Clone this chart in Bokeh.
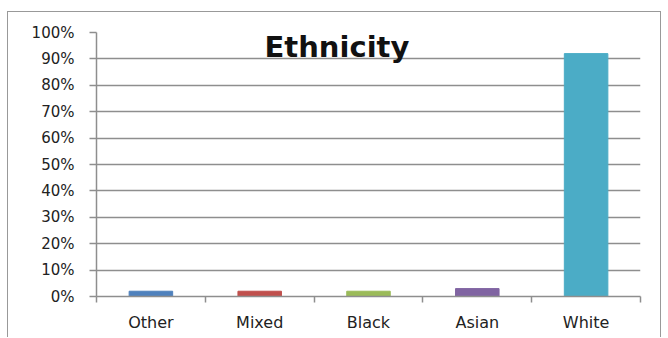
from bokeh.plotting import figure
from bokeh.models import ColumnDataSource, FixedTicker, NumeralTickFormatter, Range1d, Label
from bokeh.embed import file_html
from bokeh.resources import INLINE

categories = ["Other", "Mixed", "Black", "Asian", "White"]
values = [0.02, 0.02, 0.02, 0.03, 0.92]
colors = ["#4F81BD", "#C0504D", "#9BBB59", "#8064A2", "#4BACC6"]
y_ticks = [0, 0.1, 0.2, 0.3, 0.4, 0.5, 0.6, 0.7, 0.8, 0.9, 1.0]
title_text = "Ethnicity"

xs = [i + 0.5 for i in range(len(categories))]
src = ColumnDataSource(dict(x=xs, top=values, color=colors, cat=categories))

p = figure(width=654, height=326, output_backend="svg", toolbar_location=None,
           x_range=Range1d(0, len(categories)), y_range=Range1d(0, 1),
           min_border_left=88, min_border_right=22, min_border_top=20, min_border_bottom=42)
p.styles = {"border-left": "1.5px solid #999999", "border-top": "1.5px solid #999999",
            "border-right": "1.5px solid #999999", "margin-left": "7px", "margin-top": "11px"}
p.outline_line_color = None
p.background_fill_color = "white"
p.border_fill_color = "white"

p.vbar(x="x", top="top", width=0.4, color="color", source=src)

grid_col = "#8e8e8e"
# x axis
p.xaxis.ticker = FixedTicker(ticks=xs, minor_ticks=list(range(len(categories) + 1)))
p.xaxis.major_label_overrides = {x: c for x, c in zip(xs, categories)}
p.xaxis.major_tick_out = 0
p.xaxis.major_tick_in = 0
p.xaxis.minor_tick_out = 6
p.xaxis.minor_tick_in = 0
p.xaxis.minor_tick_line_color = grid_col
p.xaxis.minor_tick_line_width = 1.5
p.xaxis.axis_line_color = grid_col
p.xaxis.axis_line_width = 1.5
p.xaxis.major_label_standoff = 10
p.xaxis.major_label_text_font = "DejaVu Sans"
p.xaxis.major_label_text_font_size = "16px"
p.xaxis.major_label_text_color = "#222222"
p.xgrid.visible = False

# y axis
p.yaxis.ticker = FixedTicker(ticks=y_ticks, minor_ticks=[])
p.yaxis.formatter = NumeralTickFormatter(format="0%")
p.yaxis.major_tick_out = 7
p.yaxis.major_tick_in = 0
p.yaxis.major_tick_line_color = grid_col
p.yaxis.major_tick_line_width = 1.5
p.yaxis.axis_line_color = grid_col
p.yaxis.axis_line_width = 1.5
p.yaxis.major_label_standoff = 15
p.yaxis.major_label_text_font = "DejaVu Sans"
p.yaxis.major_label_text_font_size = "15px"
p.yaxis.major_label_text_color = "#222222"
p.ygrid.ticker = FixedTicker(ticks=y_ticks)
p.ygrid.grid_line_color = grid_col
p.ygrid.grid_line_width = 1.5
p.ygrid.level = "underlay"

title = Label(x=2.21, y=0.945, text=title_text, text_align="center",
              text_baseline="alphabetic", text_font="DejaVu Sans", text_font_style="bold",
              text_font_size="29px", text_color="#111111")
p.add_layout(title)

open("out.html", "w").write(file_html(p, INLINE))
